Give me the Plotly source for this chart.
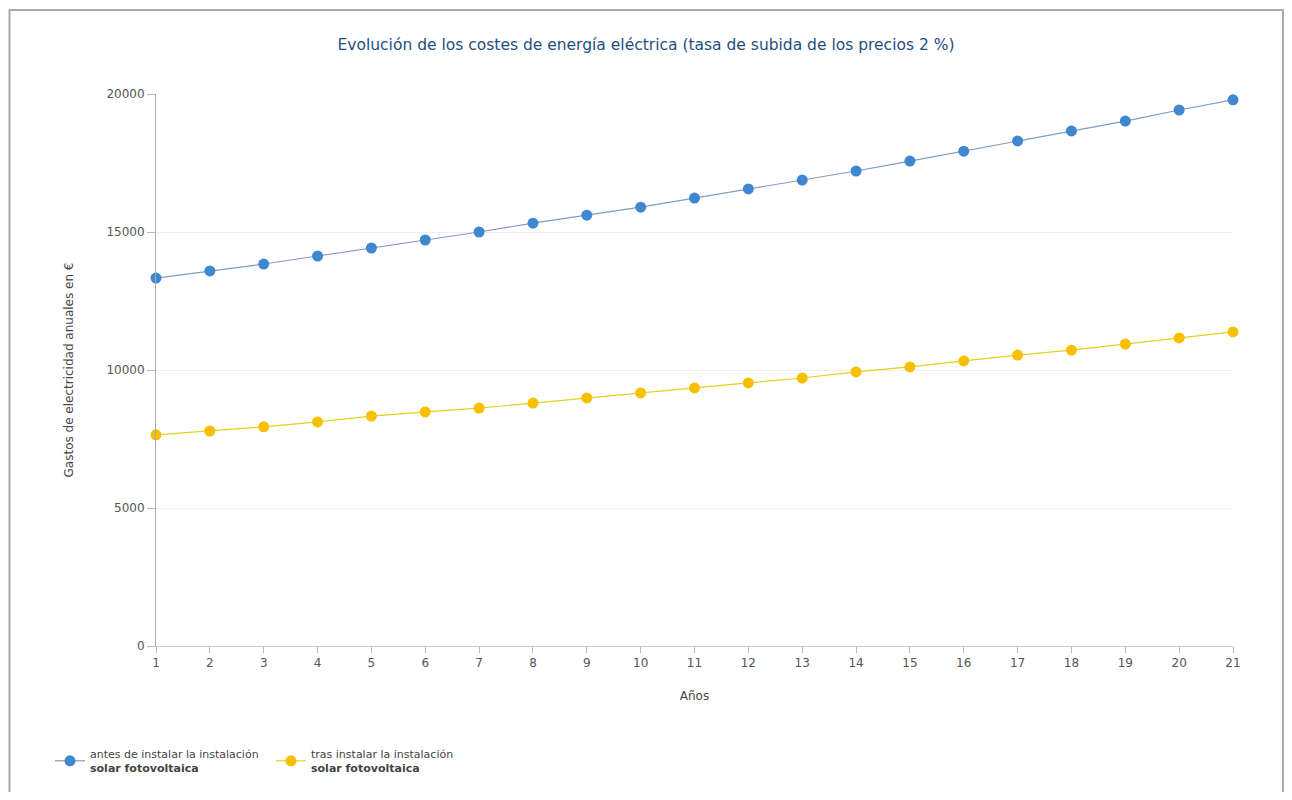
import plotly.graph_objects as go

years = list(range(1, 22))
antes = [13330, 13590, 13840, 14130, 14420, 14710, 15000, 15320, 15610, 15900,
         16230, 16560, 16880, 17210, 17570, 17930, 18300, 18660, 19020, 19420, 19790]
tras = [7650, 7790, 7940, 8120, 8330, 8480, 8620, 8800, 8990, 9170,
        9350, 9530, 9710, 9930, 10110, 10330, 10540, 10720, 10940, 11160, 11380]

title_text = "Evolución de los costes de energía eléctrica (tasa de subida de los precios 2 %)"
name_antes = "antes de instalar la instalación<br><b>solar fotovoltaica</b>"
name_tras = "tras instalar la instalación<br><b>solar fotovoltaica</b>"

OFF = 8  # page body margin
W, H = 1276, 784
L, R, T, B = 148, 51, 86, 146
pw, ph = W - L - R, H - T - B

def px(x):
    return (x - OFF - L) / pw

def py(y):
    return (H - B - (y - OFF)) / ph

font_fam = "DejaVu Sans"

fig = go.Figure()
fig.add_trace(go.Scatter(
    x=years, y=antes, name=name_antes, mode="lines+markers",
    line=dict(color="#7f9cc0", width=1.2),
    marker=dict(color="#3f88d0", size=11, line=dict(width=0)),
    cliponaxis=False,
))
fig.add_trace(go.Scatter(
    x=years, y=tras, name=name_tras, mode="lines+markers",
    line=dict(color="#e3d21a", width=1.2),
    marker=dict(color="#f6c000", size=11, line=dict(width=0)),
    cliponaxis=False,
))

fig.update_layout(
    width=W, height=H,
    margin=dict(l=L, r=R, t=T, b=B, autoexpand=False),
    paper_bgcolor="white", plot_bgcolor="white",
    font=dict(family=font_fam, size=12, color="#444444"),
    title=dict(text=title_text, x=0.5, xanchor="center", y=1 - (45 - OFF) / H, yanchor="middle",
               font=dict(family=font_fam, size=15.5, color="#1f4f7f")),
    xaxis=dict(
        range=[1, 21], tickmode="array", tickvals=years,
        ticks="outside", ticklen=6, tickcolor="#bbbbbb",
        showline=True, linecolor="#cccccc", linewidth=1,
        showgrid=False, zeroline=False,
        tickfont=dict(size=12, color="#555555"),
        title=dict(text="Años", font=dict(size=12, color="#444444"), standoff=22),
    ),
    yaxis=dict(
        range=[0, 20000], tickvals=[0, 5000, 10000, 15000, 20000], tickformat="d",
        ticks="outside", ticklen=8, tickcolor="#bbbbbb",
        showline=True, linecolor="#aaaaaa", linewidth=1,
        showgrid=True, gridcolor="#eeeeee", zeroline=False,
        tickfont=dict(size=12, color="#555555"),
        title=dict(text="Gastos de electricidad anuales en €", font=dict(size=12, color="#444444"), standoff=30),
    ),
    legend=dict(
        orientation="h", x=px(50), y=py(740), xanchor="left", yanchor="top",
        font=dict(size=11, color="#444444"), itemwidth=30,
        tracegroupgap=0, entrywidth=176, entrywidthmode="pixels",
    ),
    shapes=[dict(type="rect", xref="paper", yref="paper",
                 x0=px(9.5), x1=px(1283), y0=py(806), y1=py(10),
                 line=dict(color="#aaaaaa", width=2), layer="below")],
)

fig.write_html("out.html")
